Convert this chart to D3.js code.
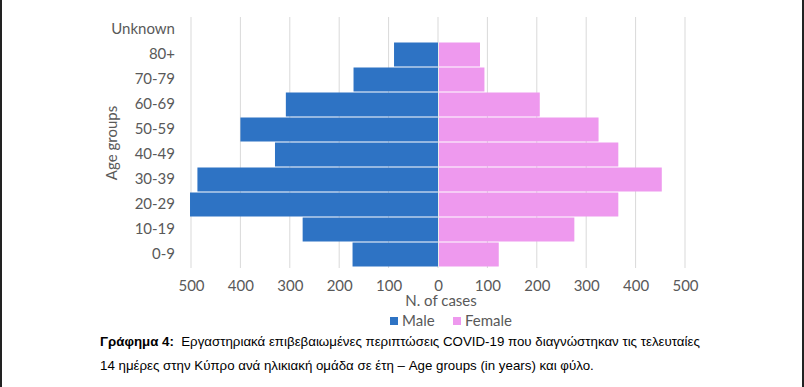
<!DOCTYPE html>
<html>
<head>
<meta charset="utf-8">
<script src="https://cdn.jsdelivr.net/npm/d3@7"></script>
<style>
  body { margin: 0; background: #fff; }
  text { font-family: Lato, "Open Sans", sans-serif; }
  .caption { font-family: "Liberation Sans", Arial, sans-serif; font-size: 13.3px; fill: #000; }
</style>
</head>
<body>
<div id="chart"></div>
<script>
// age groups, top to bottom
var ageGroups = ["Unknown", "80+", "70-79", "60-69", "50-59", "40-49", "30-39", "20-29", "10-19", "0-9"];
var maleCases = [0, 89, 171, 308, 400, 330, 487, 502, 274, 173];
var femaleCases = [0, 85, 94, 206, 325, 365, 453, 365, 276, 123];
var tickValues = [-500, -400, -300, -200, -100, 0, 100, 200, 300, 400, 500];
var seriesNames = ["Male", "Female"];
var seriesColors = ["#2E73C4", "#EE99EE"];

var width = 804, height = 387;

var svg = d3.select("#chart").append("svg")
    .attr("width", width)
    .attr("height", height);

// page borders seen on the scan
svg.append("rect").attr("x", 0).attr("y", 0).attr("width", 2).attr("height", height).attr("fill", "#222");
svg.append("rect").attr("x", 802).attr("y", 0).attr("width", 2).attr("height", height).attr("fill", "#222");

var x = d3.scaleLinear().domain([-500, 500]).range([191, 685]);
var y = d3.scaleBand().domain(ageGroups).range([17, 267]).paddingInner(0.04).paddingOuter(0.02);

// gridlines
svg.append("g").selectAll("line")
    .data(tickValues)
    .enter().append("line")
    .attr("x1", function(d) { return x(d); })
    .attr("x2", function(d) { return x(d); })
    .attr("y1", 17)
    .attr("y2", 268)
    .attr("stroke", "#d9d9d9")
    .attr("stroke-width", 1);

// bars
var rows = ageGroups.map(function(g, i) { return {group: g, male: maleCases[i], female: femaleCases[i]}; });

svg.append("g").selectAll("rect")
    .data(rows)
    .enter().append("rect")
    .attr("x", function(d) { return x(-d.male); })
    .attr("y", function(d) { return y(d.group); })
    .attr("width", function(d) { return x(0) - x(-d.male); })
    .attr("height", y.bandwidth())
    .attr("fill", seriesColors[0]);

svg.append("g").selectAll("rect")
    .data(rows)
    .enter().append("rect")
    .attr("x", x(0) + 1)
    .attr("y", function(d) { return y(d.group); })
    .attr("width", function(d) { return Math.max(0, x(d.female) - x(0) - 1); })
    .attr("height", y.bandwidth())
    .attr("fill", seriesColors[1]);

// x axis labels
var xAxis = d3.axisBottom(x)
    .tickValues(tickValues)
    .tickSize(0)
    .tickPadding(0)
    .tickFormat(function(d) { return Math.abs(d); });

var gx = svg.append("g").attr("transform", "translate(0,280)").call(xAxis);
gx.select(".domain").remove();
gx.selectAll("text").attr("font-size", "15px").attr("fill", "#595959")
    .style("font-family", "Lato, 'Open Sans', sans-serif");

// y axis labels
var yAxis = d3.axisLeft(y).tickSize(0).tickPadding(0);
var gy = svg.append("g").attr("transform", "translate(175,0)").call(yAxis);
gy.select(".domain").remove();
gy.selectAll("text").attr("font-size", "15px").attr("fill", "#595959")
    .style("font-family", "Lato, 'Open Sans', sans-serif");

// axis titles
svg.append("text")
    .attr("x", 441)
    .attr("y", 306)
    .attr("text-anchor", "middle")
    .attr("font-size", "15px")
    .attr("fill", "#595959")
    .text("N. of cases");

svg.append("text")
    .attr("transform", "translate(117,143) rotate(-90)")
    .attr("text-anchor", "middle")
    .attr("font-size", "15px")
    .attr("fill", "#595959")
    .text("Age groups");

// legend
var legend = svg.append("g").attr("transform", "translate(390,316)");
var legX = [0, 63];
seriesNames.forEach(function(name, i) {
    legend.append("rect")
        .attr("x", legX[i])
        .attr("y", 1)
        .attr("width", 8)
        .attr("height", 8)
        .attr("fill", seriesColors[i]);
    legend.append("text")
        .attr("x", legX[i] + 12)
        .attr("y", 10)
        .attr("font-size", "15px")
        .attr("fill", "#595959")
        .text(name);
});

// caption
var cap1 = svg.append("text").attr("class", "caption").attr("x", 100).attr("y", 346);
cap1.append("tspan").attr("font-weight", "bold").text("Γράφημα 4:");
cap1.append("tspan").text("\u00a0 Εργαστηριακά επιβεβαιωμένες περιπτώσεις COVID-19 που διαγνώστηκαν τις τελευταίες");

svg.append("text").attr("class", "caption").attr("x", 100).attr("y", 370)
    .text("14 ημέρες στην Κύπρο ανά ηλικιακή ομάδα σε έτη – Age groups (in years) και φύλο.");
</script>
</body>
</html>
